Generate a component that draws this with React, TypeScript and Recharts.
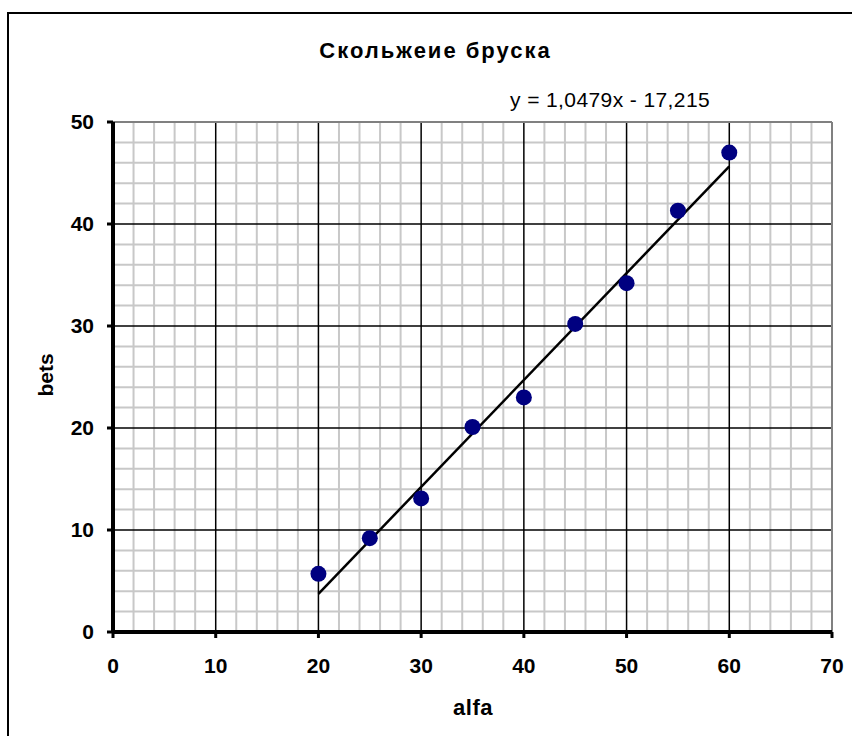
import React from 'react';
import { ScatterChart, Scatter, XAxis, YAxis, ReferenceLine } from 'recharts';

const alfa = [20, 25, 30, 35, 40, 45, 50, 55, 60];
const bets = [5.7, 9.2, 13.1, 20.1, 23.0, 30.2, 34.2, 41.3, 47.0];

const xTicks = [0, 10, 20, 30, 40, 50, 60, 70];
const yTicks = [0, 10, 20, 30, 40, 50];
const xMajor = [10, 20, 30, 40, 50, 60];
const yMajor = [10, 20, 30, 40];

// trend line y = 1,0479x - 17,215 between the first and last alfa
const trendX = [20, 60];
const trendY = [3.743, 45.659];

const minorX: number[] = [];
for (let v = 2; v < 70; v += 2) if (v % 10 !== 0) minorX.push(v);
const minorY: number[] = [];
for (let v = 2; v < 50; v += 2) if (v % 10 !== 0) minorY.push(v);

const points = alfa.map((a, i) => ({ x: a, y: bets[i] }));

const FONT = '"Liberation Sans", Arial, sans-serif';
const tickStyle = { fontSize: 21, fontWeight: 700, fill: '#000', fontFamily: FONT };

export default function App() {
  return (
    <div style={{ position: 'absolute', left: 0, top: 0, width: 852, height: 736, overflow: 'hidden', background: '#fff' }}>
      <div style={{ position: 'absolute', left: 7, top: 12, width: 900, height: 800, borderLeft: '2px solid #000', borderTop: '2px solid #000' }} />
      <ScatterChart width={852} height={736} margin={{ top: 122, right: 20, bottom: 44, left: 0 }}>
        <XAxis
          type="number"
          dataKey="x"
          domain={[0, 70]}
          ticks={xTicks}
          interval={0}
          height={60}
          tick={tickStyle}
          tickSize={6}
          tickMargin={20}
          axisLine={{ stroke: '#000', strokeWidth: 4 }}
          tickLine={{ stroke: '#000', strokeWidth: 3 }}
        />
        <YAxis
          type="number"
          dataKey="y"
          domain={[0, 50]}
          ticks={yTicks}
          interval={0}
          width={113}
          tick={tickStyle}
          tickSize={6}
          tickMargin={13}
          axisLine={{ stroke: '#000', strokeWidth: 4 }}
          tickLine={{ stroke: '#000', strokeWidth: 3 }}
        />
        {minorX.map(v => (
          <ReferenceLine key={'mx' + v} x={v} stroke="#c8c8c8" strokeWidth={2} />
        ))}
        {minorY.map(v => (
          <ReferenceLine key={'my' + v} y={v} stroke="#c8c8c8" strokeWidth={2} />
        ))}
        {xMajor.map(v => (
          <ReferenceLine key={'Mx' + v} x={v} stroke="#000" strokeWidth={1.5} />
        ))}
        {yMajor.map(v => (
          <ReferenceLine key={'My' + v} y={v} stroke="#000" strokeWidth={1.5} />
        ))}
        <ReferenceLine y={50} stroke="#808080" strokeWidth={2} />
        <ReferenceLine x={70} stroke="#808080" strokeWidth={2} />
        <Scatter
          data={points}
          isAnimationActive={false}
          shape={(p: any) => <circle cx={p.cx} cy={p.cy} r={8} fill="#000080" />}
        />
        <ReferenceLine
          segment={[{ x: trendX[0], y: trendY[0] }, { x: trendX[1], y: trendY[1] }]}
          stroke="#000"
          strokeWidth={2.5}
        />
      </ScatterChart>
      <svg width={852} height={736} style={{ position: 'absolute', left: 0, top: 0, pointerEvents: 'none' }}>
        <text x={435.5} y={58} textAnchor="middle" fontFamily={FONT} fontSize={22} fontWeight={700} letterSpacing={2} fill="#000">
          Скольжеие бруска
        </text>
        <text x={510} y={107} textAnchor="start" fontFamily={FONT} fontSize={21} letterSpacing={0.4} fill="#000">
          y = 1,0479x - 17,215
        </text>
        <text x={473} y={715} textAnchor="middle" fontFamily={FONT} fontSize={22} fontWeight={700} letterSpacing={0.5} fill="#000">
          alfa
        </text>
        <text transform="translate(53,375) rotate(-90)" textAnchor="middle" fontFamily={FONT} fontSize={21} fontWeight={700} fill="#000">
          bets
        </text>
      </svg>
    </div>
  );
}
